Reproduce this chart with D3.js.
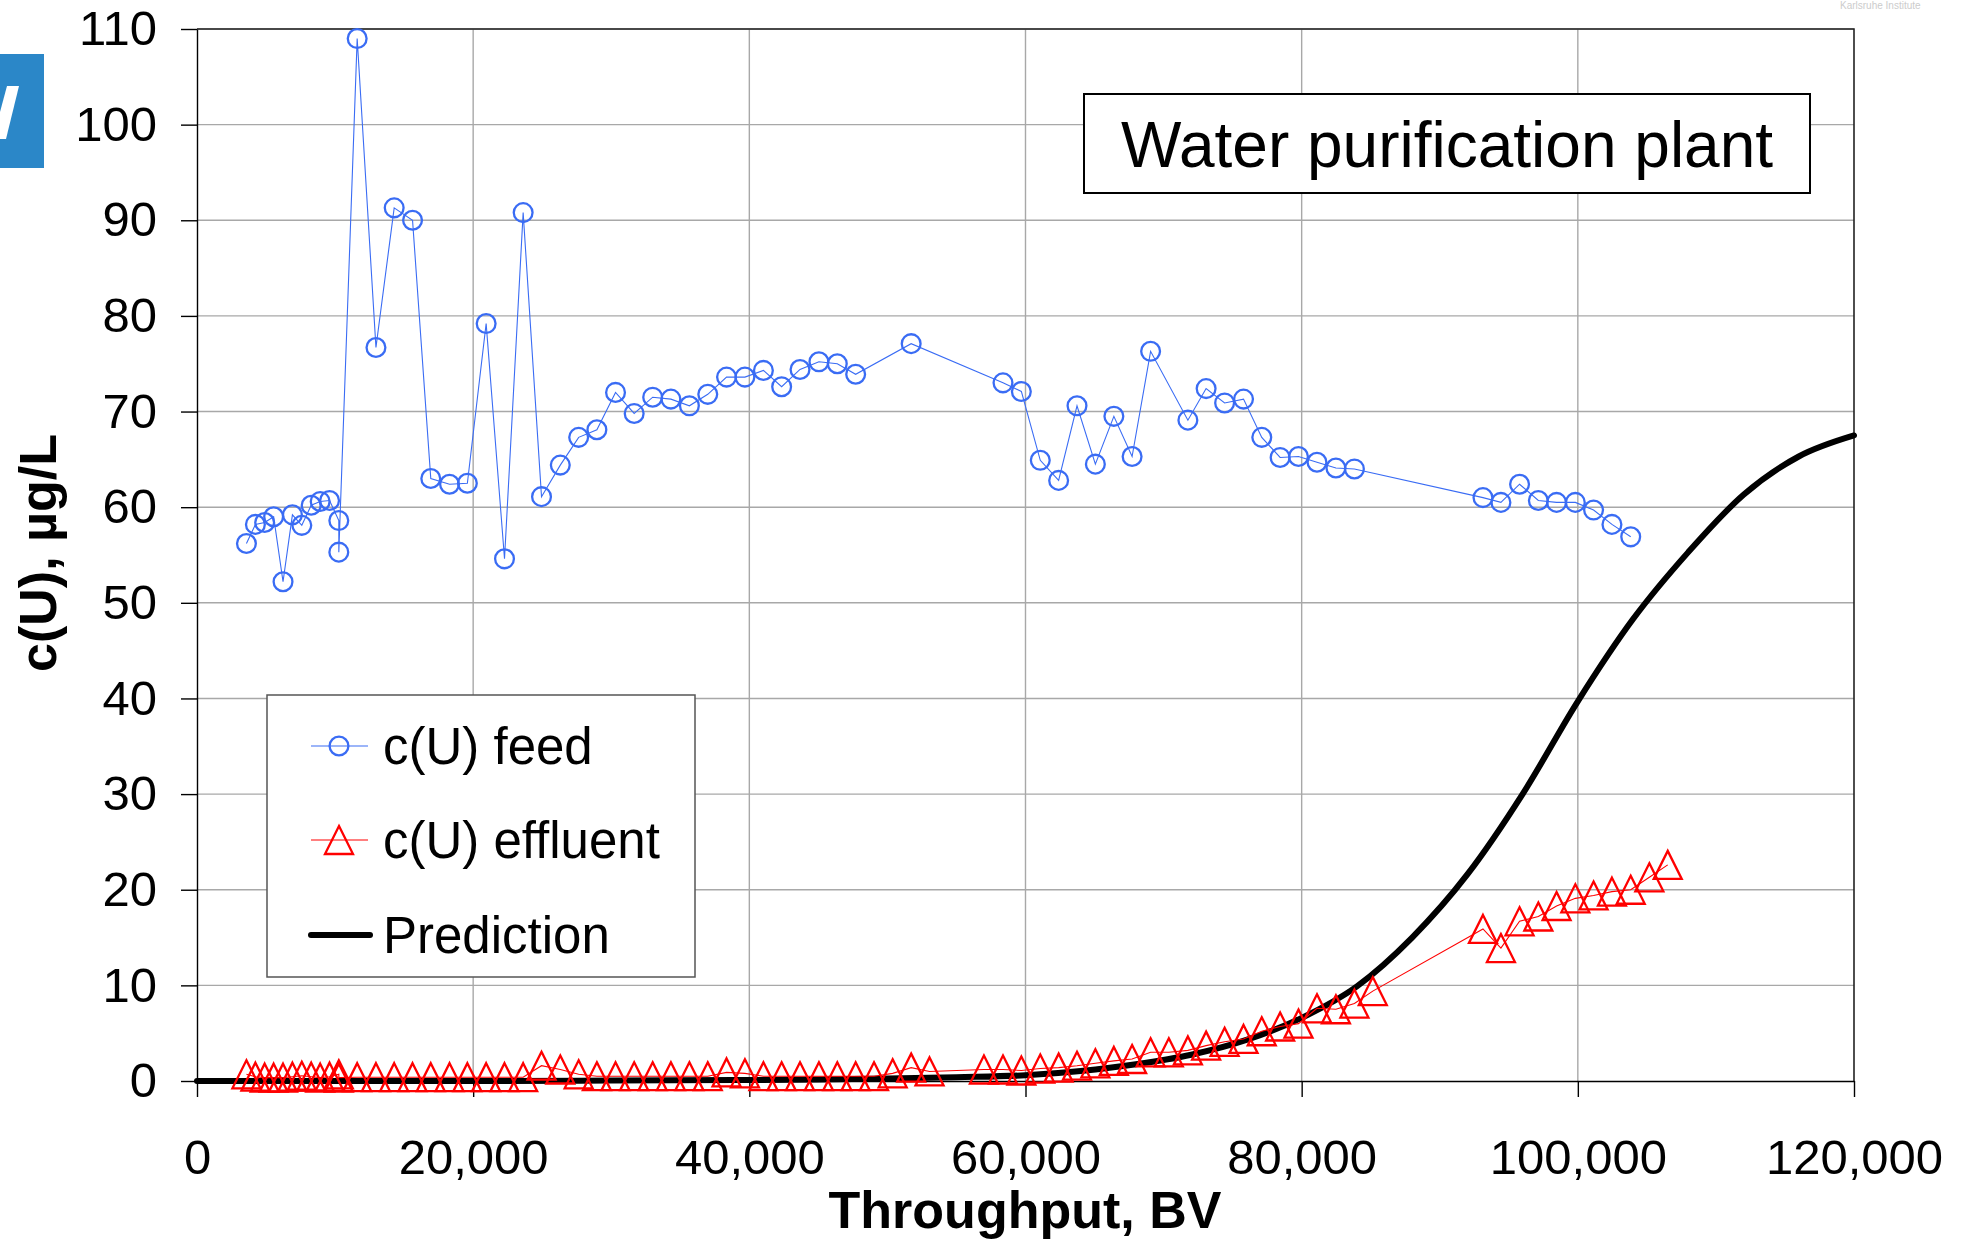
<!DOCTYPE html>
<html>
<head>
<meta charset="utf-8">
<script src="https://cdn.jsdelivr.net/npm/d3@7"></script>
<style>
  body { margin: 0; background: #fff; }
  svg { display: block; font-family: "Liberation Sans", Arial, sans-serif; }
  .grid line { stroke: #a8a8a8; stroke-width: 1.4; }
  .axis text { font-size: 49px; fill: #000; }
  .axis path, .axis line { stroke: #000; stroke-width: 1.4; }
  .axis-label { font-size: 52px; font-weight: bold; }
</style>
</head>
<body>
<script>
const chartSize = {width: 1967, height: 1241};
const margin = {left: 197, right: 113, top: 29, bottom: 160};
const width = chartSize.width - margin.left - margin.right;
const height = chartSize.height - margin.top - margin.bottom;

// throughput (BV) and c(U) in µg/L
const feedBV = [3580, 4230, 4900, 5550, 6230, 6910, 7590, 8270, 8920, 9600, 10270, 10270,
  11600, 12960, 14280, 15610, 16930, 18290, 19580, 20940, 22270, 23620,
  24950, 26310, 27640, 28960, 30310, 31660, 33000, 34320, 35660, 36990,
  38350, 39680, 41020, 42340, 43670, 45040, 46370, 47700,
  51720, 58370, 59700, 61070, 62400, 63730, 65060, 66400, 67720, 69060,
  71760, 73080, 74420, 75790, 77110, 78440, 79770, 81110, 82480, 83820,
  93130, 94430, 95780, 97140, 98460, 99820, 101140, 102470, 103830];
const feedC = [56.2, 58.2, 58.4, 59.0, 52.2, 59.2, 58.1, 60.2, 60.6, 60.7, 58.6, 55.3,
  109.0, 76.7, 91.3, 90.0, 63.0, 62.4, 62.5, 79.2, 54.6, 90.8,
  61.1, 64.4, 67.3, 68.1, 72.0, 69.8, 71.5, 71.3, 70.6, 71.8,
  73.6, 73.6, 74.3, 72.6, 74.4, 75.2, 75.0, 73.9,
  77.1, 73.0, 72.1, 64.9, 62.8, 70.6, 64.5, 69.5, 65.3, 76.3,
  69.1, 72.4, 70.9, 71.3, 67.3, 65.2, 65.3, 64.7, 64.1, 64.0,
  61.0, 60.5, 62.4, 60.7, 60.5, 60.5, 59.7, 58.2, 56.9];

const effBV = [3580, 4230, 4900, 5550, 6230, 6910, 7590, 8270, 8920, 9600, 10270, 10270,
  11600, 12960, 14280, 15610, 16930, 18290, 19580, 20940, 22270, 23620,
  24950, 26310, 27640,
  28960, 30310, 31660, 33000, 34320, 35660, 36990,
  38350, 39680,
  41020, 42340, 43670, 45040, 46370, 47700, 49030,
  50380, 51720, 53050,
  56990, 58370, 59700, 61070, 62400, 63730, 65060, 66400, 67720, 69060, 70380,
  71760, 73080, 74420, 75790, 77110, 78440, 79770, 81110, 82480, 83820, 85150,
  93130, 94430, 95780, 97140, 98460, 99820, 101140, 102470, 103830, 105180, 106510];
const effC = [0.7, 0.45, 0.35, 0.35, 0.35, 0.45, 0.55, 0.45, 0.35, 0.45, 0.7, 0.35,
  0.4, 0.4, 0.4, 0.4, 0.4, 0.4, 0.4, 0.4, 0.4, 0.4,
  1.6, 1.2, 0.7,
  0.5, 0.5, 0.5, 0.5, 0.5, 0.5, 0.5,
  0.9, 0.8,
  0.5, 0.5, 0.5, 0.5, 0.5, 0.5, 0.5,
  0.8, 1.4, 1.0,
  1.2, 1.2, 1.1, 1.3, 1.4, 1.6, 1.85, 2.1, 2.3, 3.0, 3.0,
  3.2, 3.7, 4.1, 4.4, 5.2, 5.7, 6.0, 7.6, 7.5, 8.1, 9.4,
  15.9, 13.9, 16.7, 17.2, 18.3, 19.1, 19.4, 19.8, 20.0, 21.3, 22.6];

const predBV = [0, 10000, 20000, 30000, 40000, 45000, 50000, 55000, 60000, 64000, 68000,
  72000, 76000, 80000, 84000, 88000, 92000, 96000, 100000, 104000, 108000, 112000, 116000, 120000];
const predC = [0, 0, 0, 0.05, 0.1, 0.15, 0.25, 0.4, 0.6, 1.05, 1.75,
  2.75, 4.3, 6.6, 9.9, 15.0, 21.6, 30.0, 39.7, 48.3, 55.3, 61.3, 65.3, 67.5];

const xTicks = [0, 20000, 40000, 60000, 80000, 100000, 120000];
const yTicks = [0, 10, 20, 30, 40, 50, 60, 70, 80, 90, 100, 110];

const feedColor = "#3a6cf4";
const effColor = "#ff0000";

const svg = d3.select("body").append("svg")
  .attr("width", chartSize.width)
  .attr("height", chartSize.height);

// logo fragment + faint header text
svg.append("rect").attr("x", 0).attr("y", 54).attr("width", 44).attr("height", 114).attr("fill", "#2b87c8");
svg.append("polygon").attr("points", "7,86 19,86 6,139 0,139 0,112").attr("fill", "#fff");
svg.append("text").attr("x", 1840).attr("y", 9).attr("font-size", 10).attr("fill", "#cccccc")
  .text("Karlsruhe Institute");

const g = svg.append("g")
  .attr("transform", `translate(${margin.left},${margin.top})`);

const x = d3.scaleLinear().domain([0, 120000]).range([0, width]);
const y = d3.scaleLinear().domain([0, 110]).range([height, 0]);

// grid
const grid = g.append("g").attr("class", "grid");
grid.selectAll(".h").data(yTicks.slice(1)).enter().append("line")
  .attr("x1", 0).attr("x2", width).attr("y1", d => y(d)).attr("y2", d => y(d));
grid.selectAll(".v").data(xTicks.slice(1, -1)).enter().append("line")
  .attr("y1", 0).attr("y2", height).attr("x1", d => x(d)).attr("x2", d => x(d));

// frame top / right
g.append("path")
  .attr("d", `M0,${y(110)}H${x(120000)}V${y(0)}`)
  .attr("fill", "none").attr("stroke", "#222").attr("stroke-width", 1.6);

const yAxis = d3.axisLeft(y).tickValues(yTicks).tickSize(16).tickSizeOuter(0).tickPadding(24);
const xAxis = d3.axisBottom(x).tickValues(xTicks).tickSize(16).tickSizeOuter(0).tickPadding(42)
  .tickFormat(d3.format(","));

g.append("g").attr("class", "axis y-axis").call(yAxis);
g.append("g").attr("class", "axis x-axis")
  .attr("transform", `translate(0,${height})`).call(xAxis);

// prediction
const predLine = d3.line().x(d => x(d[0])).y(d => y(d[1])).curve(d3.curveMonotoneX);
g.append("path")
  .datum(d3.zip(predBV, predC))
  .attr("d", predLine)
  .attr("fill", "none").attr("stroke", "#000").attr("stroke-width", 6)
  .attr("stroke-linecap", "round");

const triangle = s => `M0,${-s / 2}L${s / 2},${s / 2}L${-s / 2},${s / 2}Z`;

// effluent
const effData = d3.zip(effBV, effC);
const simpleLine = d3.line().x(d => x(d[0])).y(d => y(d[1]));
g.append("path").datum(effData).attr("d", simpleLine)
  .attr("fill", "none").attr("stroke", effColor).attr("stroke-width", 1.1);
g.selectAll(".tri").data(effData).enter().append("path")
  .attr("transform", d => `translate(${x(d[0])},${y(d[1])})`)
  .attr("d", triangle(28))
  .attr("fill", "none").attr("stroke", effColor).attr("stroke-width", 2.3);

// feed
const feedData = d3.zip(feedBV, feedC);
g.append("path").datum(feedData).attr("d", simpleLine)
  .attr("fill", "none").attr("stroke", feedColor).attr("stroke-width", 1.1);
g.selectAll(".dot").data(feedData).enter().append("circle")
  .attr("cx", d => x(d[0])).attr("cy", d => y(d[1])).attr("r", 9.4)
  .attr("fill", "none").attr("stroke", feedColor).attr("stroke-width", 2.3);

// axis titles
svg.append("text").attr("class", "axis-label")
  .attr("x", 1025).attr("y", 1228)
  .attr("text-anchor", "middle")
  .text("Throughput, BV");

svg.append("text").attr("class", "axis-label")
  .attr("transform", "translate(56,553) rotate(-90)")
  .attr("text-anchor", "middle")
  .text("c(U), µg/L");

// title box
svg.append("rect").attr("x", 1084).attr("y", 94).attr("width", 726).attr("height", 99)
  .attr("fill", "#fff").attr("stroke", "#000").attr("stroke-width", 2);
svg.append("text").attr("x", 1447).attr("y", 167)
  .attr("text-anchor", "middle").attr("font-size", 64)
  .text("Water purification plant");

// legend
const legend = svg.append("g");
legend.append("rect").attr("x", 267).attr("y", 695).attr("width", 428).attr("height", 282)
  .attr("fill", "#fff").attr("stroke", "#555").attr("stroke-width", 1.5);
const items = [
  {label: "c(U) feed", y: 746, kind: "feed"},
  {label: "c(U) effluent", y: 840, kind: "eff"},
  {label: "Prediction", y: 935, kind: "pred"}
];
items.forEach(it => {
  if (it.kind === "pred") {
    legend.append("line").attr("x1", 311).attr("x2", 370).attr("y1", it.y).attr("y2", it.y)
      .attr("stroke", "#000").attr("stroke-width", 6).attr("stroke-linecap", "round");
  } else {
    const c = it.kind === "feed" ? feedColor : effColor;
    legend.append("line").attr("x1", 311).attr("x2", 368).attr("y1", it.y).attr("y2", it.y)
      .attr("stroke", c).attr("stroke-width", 1.1);
    if (it.kind === "feed") {
      legend.append("circle").attr("cx", 339).attr("cy", it.y).attr("r", 9.4)
        .attr("fill", "none").attr("stroke", c).attr("stroke-width", 2.3);
    } else {
      legend.append("path").attr("transform", `translate(339,${it.y})`).attr("d", triangle(28))
        .attr("fill", "none").attr("stroke", c).attr("stroke-width", 2.3);
    }
  }
  legend.append("text").attr("x", 383).attr("y", it.y + 18)
    .attr("font-size", 51).text(it.label);
});
</script>
</body>
</html>
